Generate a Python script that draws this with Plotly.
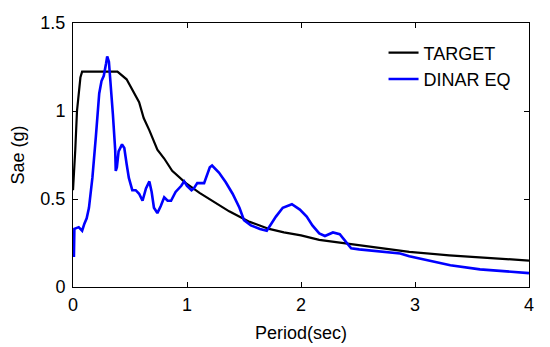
import plotly.graph_objects as go

# TARGET spectrum
target_period = [0, 0.01, 0.02, 0.035, 0.05, 0.065, 0.08, 0.39, 0.47, 0.53, 0.58, 0.62, 0.67,
                 0.74, 0.8, 0.87, 0.99, 1.11, 1.26, 1.37, 1.55, 1.72, 1.85, 2.0, 2.16, 2.43,
                 2.7, 2.95, 3.3, 3.6, 4.0]
target_sae = [0.55, 0.65, 0.78, 1.0, 1.1, 1.19, 1.224, 1.224, 1.18, 1.11, 1.05, 0.96, 0.89,
              0.78, 0.73, 0.66, 0.59, 0.535, 0.475, 0.43, 0.37, 0.33, 0.31, 0.293, 0.268, 0.245,
              0.22, 0.2, 0.18, 0.167, 0.15]

# DINAR EQ spectrum
dinar_period = [0.008, 0.012, 0.05, 0.08, 0.10, 0.12, 0.14, 0.16, 0.17, 0.2, 0.23, 0.25, 0.27,
                0.29, 0.30, 0.315, 0.33, 0.35, 0.37, 0.375, 0.385, 0.40, 0.43, 0.45, 0.47, 0.49,
                0.52, 0.55, 0.58, 0.61, 0.64, 0.67, 0.69, 0.71, 0.74, 0.77, 0.80, 0.83, 0.86,
                0.90, 0.95, 0.975, 1.0, 1.04, 1.06, 1.09, 1.15, 1.20, 1.22, 1.28, 1.34, 1.40,
                1.46, 1.50, 1.56, 1.64, 1.70, 1.72, 1.78, 1.84, 1.92, 1.99, 2.05, 2.10, 2.16,
                2.21, 2.28, 2.34, 2.40, 2.44, 2.51, 2.69, 2.87, 2.95, 3.02, 3.13, 3.31, 3.57,
                3.75, 4.0]
dinar_sae = [0.17, 0.33, 0.34, 0.32, 0.36, 0.39, 0.45, 0.55, 0.62, 0.85, 1.1, 1.17, 1.2,
             1.27, 1.31, 1.28, 1.17, 0.98, 0.78, 0.66, 0.68, 0.77, 0.81, 0.79, 0.70, 0.62,
             0.55, 0.55, 0.53, 0.49, 0.56, 0.60, 0.54, 0.45, 0.42, 0.46, 0.51, 0.49, 0.49,
             0.54, 0.575, 0.60, 0.575, 0.55, 0.56, 0.59, 0.59, 0.68, 0.69, 0.65, 0.595, 0.53,
             0.45, 0.38, 0.35, 0.33, 0.32, 0.34, 0.40, 0.45, 0.47, 0.44, 0.40, 0.35, 0.305,
             0.29, 0.31, 0.30, 0.255, 0.22, 0.214, 0.20, 0.19, 0.175, 0.165, 0.152, 0.124, 0.10,
             0.09, 0.079]

x_ticks = [0, 1, 2, 3, 4]
y_ticks = [0, 0.5, 1, 1.5]
y_tick_text = ["0", "0.5", "1", "1.5"]

FONT = "Liberation Sans, Arial, sans-serif"
FS = 18

fig = go.Figure()
fig.add_trace(go.Scatter(x=target_period, y=target_sae, mode="lines", name="TARGET",
                         legendgroup="a", line=dict(color="#000000", width=2.2)))
fig.add_trace(go.Scatter(x=dinar_period, y=dinar_sae, mode="lines", name="DINAR EQ",
                         legendgroup="b", line=dict(color="#0000FF", width=2.6)))

axis_common = dict(showline=True, linecolor="#000000", linewidth=1, mirror="ticks",
                   ticks="inside", ticklen=5, tickcolor="#000000", showgrid=False,
                   zeroline=False, automargin=False,
                   tickfont=dict(family=FONT, size=FS, color="#000000"))

# page body has an 8px margin; figure sized so the plot lands where the reference has it
fig.update_layout(
    width=542, height=339,
    margin=dict(l=65, r=21, t=15, b=60),
    paper_bgcolor="white", plot_bgcolor="white",
    font=dict(family=FONT, size=FS, color="#000000"),
    xaxis=dict(range=[0, 4], tickvals=x_ticks, ticklabelstandoff=1,
               title=dict(text="Period(sec)", font=dict(family=FONT, size=FS), standoff=12),
               **axis_common),
    yaxis=dict(range=[0, 1.5], tickvals=y_ticks, ticktext=y_tick_text, ticklabelstandoff=3,
               title=dict(text="Sae (g)", font=dict(family=FONT, size=FS), standoff=12),
               **axis_common),
    legend=dict(x=0.681, y=0.957, xanchor="left", yanchor="top", bgcolor="rgba(0,0,0,0)",
                borderwidth=0, font=dict(family=FONT, size=FS, color="#000000"),
                tracegroupgap=9, traceorder="normal"),
    showlegend=True,
)

fig.write_html("out.html")
